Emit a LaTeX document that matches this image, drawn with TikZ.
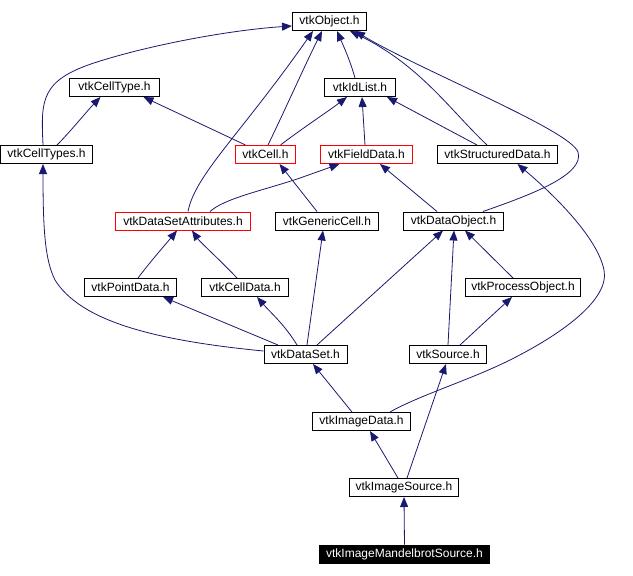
\documentclass[tikz,border=0pt]{standalone}
\usepackage{fontspec}
\setmainfont{Liberation Sans}
\usetikzlibrary{arrows.meta}
\definecolor{edgeblue}{HTML}{191970}
\tikzset{
  nb/.style={draw=black, line width=1pt, minimum height=18pt, inner sep=0pt,
    font=\fontsize{12}{14}\selectfont, text=black, fill=white},
  rb/.style={nb, draw=red},
  hb/.style={nb, fill=black, text=white},
  e/.style={draw=edgeblue, line width=0.8pt, -{Triangle[length=10pt,width=8pt]}}
}
\begin{document}
\begin{tikzpicture}[x=1pt,y=-1pt]
\useasboundingbox (0,0) rectangle (633,576);
% nodes
\node[nb, minimum width=74pt] (obj) at (329.5,21.5) {vtkObject.h};
\node[nb, minimum width=90pt] (celltype) at (114.5,87.5) {vtkCellType.h};
\node[nb, minimum width=71pt] (idlist) at (360,87.5) {vtkIdList.h};
\node[nb, minimum width=92pt] (celltypes) at (46.5,154.5) {vtkCellTypes.h};
\node[rb, minimum width=60pt] (cell) at (265.5,154.5) {vtkCell.h};
\node[rb, minimum width=92pt] (fielddata) at (366.5,154.5) {vtkFieldData.h};
\node[nb, minimum width=120pt] (structured) at (497.5,154.5) {vtkStructuredData.h};
\node[rb, minimum width=135pt] (dsa) at (183,221) {vtkDataSetAttributes.h};
\node[nb, minimum width=103pt] (generic) at (327,221) {vtkGenericCell.h};
\node[nb, minimum width=100pt] (dataobject) at (453.5,221) {vtkDataObject.h};
\node[nb, minimum width=92pt] (pointdata) at (130.5,287.5) {vtkPointData.h};
\node[nb, minimum width=87pt] (celldata) at (245,287.5) {vtkCellData.h};
\node[nb, minimum width=115pt] (processobj) at (523,287.5) {vtkProcessObject.h};
\node[nb, minimum width=83pt] (dataset) at (305.5,354.5) {vtkDataSet.h};
\node[nb, minimum width=77pt] (source) at (448,354.5) {vtkSource.h};
\node[nb, minimum width=98pt] (imagedata) at (361.5,421.5) {vtkImageData.h};
\node[nb, minimum width=109pt] (imagesource) at (404,487.5) {vtkImageSource.h};
\node[hb, minimum width=170pt] (mandel) at (404.5,554) {vtkImageMandelbrotSource.h};
% edges
\draw[e] ([xshift=-3.5pt]celltypes.north) .. controls (41,100) and (40,80) .. (97,62)
   .. controls (150,45) and (230,30) .. ([yshift=-4.5pt]obj.west);
\draw[e] ([xshift=10.5pt]celltypes.north) .. controls (70,132) and (88,110) .. ([xshift=-14pt]celltype.south);
\draw[e] ([xshift=-20pt]cell.north) -- ([xshift=29pt]celltype.south);
\draw[e] ([xshift=2.5pt]cell.north) .. controls (285,110) and (305,65) .. ([xshift=-7.5pt]obj.south);
\draw[e] ([xshift=15pt]cell.north) .. controls (300,130) and (330,110) .. ([xshift=-13pt]idlist.south);
\draw[e] ([xshift=5pt]dsa.north) .. controls (195,175) and (240,135) .. ([xshift=-16.5pt]obj.south);
\draw[e] ([xshift=27pt]dsa.north) .. controls (225,198) and (265,190) .. (300,178) -- ([xshift=-27pt]fielddata.south);
\draw[e] ([xshift=-10pt]generic.north) -- ([xshift=14pt]cell.south);
\draw[e] ([xshift=-5pt]idlist.north) .. controls (350,60) and (343,45) .. ([xshift=7.5pt]obj.south);
\draw[e] ([xshift=-1.5pt]fielddata.north) -- ([xshift=2pt]idlist.south);
\draw[e] ([xshift=-20.5pt]structured.north) -- ([xshift=27pt]idlist.south);
\draw[e] ([xshift=-10.5pt]structured.north) .. controls (450,110) and (420,65) .. ([xshift=20.5pt]obj.south);
\draw[e] ([xshift=29.5pt]dataobject.north) .. controls (530,195) and (585,175) .. (578,152)
   .. controls (570,130) and (420,70) .. ([xshift=25.5pt]obj.south);
\draw[e] ([xshift=-16.5pt]dataobject.north) -- ([xshift=13.5pt]fielddata.south);
\draw[e] ([xshift=7.5pt]pointdata.north) .. controls (150,262) and (165,245) .. ([xshift=-6pt]dsa.south);
\draw[e] ([xshift=-8pt]celldata.north) .. controls (220,260) and (200,242) .. ([xshift=9pt]dsa.south);
\draw[e] ([yshift=3.5pt]dataset.west) .. controls (150,340) and (80,320) .. (55,280)
   .. controls (45,260) and (43,230) .. ([xshift=-3.5pt]celltypes.south);
\draw[e] ([xshift=-27.5pt]dataset.north) -- ([xshift=32.5pt]pointdata.south);
\draw[e] ([xshift=-8.5pt]dataset.north) .. controls (285,325) and (270,312) .. ([xshift=12pt]celldata.south);
\draw[e] ([xshift=1.5pt]dataset.north) -- ([xshift=-4pt]generic.south);
\draw[e] ([xshift=11.5pt]dataset.north) -- ([xshift=-10.5pt]dataobject.south);
\draw[e] (source.north) -- ([xshift=0.5pt]dataobject.south);
\draw[e] ([xshift=12pt]source.north) -- ([xshift=-11pt]processobj.south);
\draw[e] ([xshift=-10pt]processobj.north) -- ([xshift=11.5pt]dataobject.south);
\draw[e] ([xshift=-9.5pt]imagedata.north) -- ([xshift=7.5pt]dataset.south);
\draw[e] ([xshift=28.5pt]imagedata.north) .. controls (420,395) and (470,380) .. (510,360)
   .. controls (560,335) and (610,300) .. (604,270)
   .. controls (598,240) and (560,200) .. ([xshift=20pt]structured.south);
\draw[e] ([xshift=-6pt]imagesource.north) -- ([xshift=8.5pt]imagedata.south);
\draw[e] ([xshift=3pt]imagesource.north) -- ([xshift=-2pt]source.south);
\draw[e] (mandel.north) -- (imagesource.south);
\end{tikzpicture}
\end{document}
